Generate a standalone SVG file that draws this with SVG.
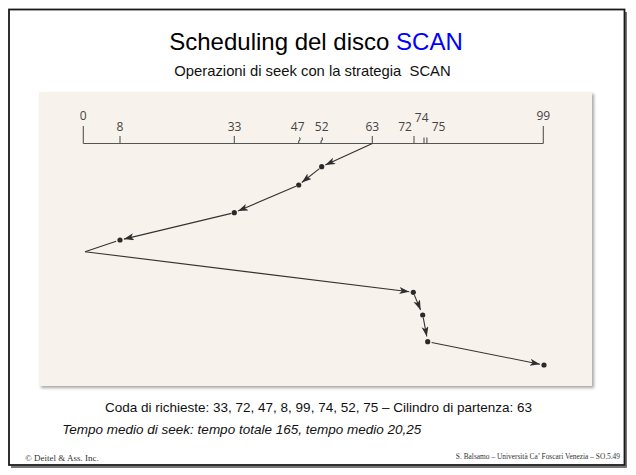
<svg xmlns="http://www.w3.org/2000/svg" width="636" height="475" viewBox="0 0 636 475">
  <defs>
    <marker id="arr" markerUnits="userSpaceOnUse" markerWidth="12" markerHeight="8" refX="10" refY="3.5" orient="auto">
      <path d="M0,0 L10,3.5 L0,7 L2.5,3.5 z" fill="#2e2e2e"/>
    </marker>
    <filter id="sh" x="-5%" y="-5%" width="110%" height="110%">
      <feGaussianBlur in="SourceAlpha" stdDeviation="1.5"/>
      <feOffset dx="1.5" dy="2" result="b"/>
      <feComponentTransfer><feFuncA type="linear" slope="0.35"/></feComponentTransfer>
      <feMerge><feMergeNode/><feMergeNode in="SourceGraphic"/></feMerge>
    </filter>
  </defs>
  <style>
    .sans { font-family: "Liberation Sans", Arial, sans-serif; }
    .serif { font-family: "Liberation Serif", "Times New Roman", serif; fill: #333; }
    .lbl { font-family: "Open Sans", "DejaVu Sans", sans-serif; font-size: 12px; fill: #444; text-anchor: middle; }
    .tick { stroke: #555; stroke-width: 1.1; fill: none; }
    .conn { stroke: #333; stroke-width: 1.1; fill: none; }
    .dot { fill: #2a2a2a; }
  </style>

  <rect width="636" height="475" fill="#ffffff"/>

  <g id="frame">
    <line x1="626" y1="12" x2="626" y2="467.5" stroke="#777" stroke-width="2"/>
    <line x1="11" y1="467" x2="626.5" y2="467" stroke="#777" stroke-width="2"/>
    <rect x="9" y="9.5" width="615.5" height="455.5" fill="none" stroke="#1a1a1a" stroke-width="1.8"/>
  </g>

  <g id="title">
    <text class="sans" x="316" y="49.5" font-size="24" text-anchor="middle" fill="#000">Scheduling del disco <tspan fill="#0000ff">SCAN</tspan></text>
    <text class="sans" x="312.5" y="76" font-size="14.8" text-anchor="middle" fill="#111" xml:space="preserve">Operazioni di seek con la strategia  SCAN</text>
  </g>

  <g id="panel">
    <rect x="39" y="92" width="553" height="294" fill="#f8f2ec" filter="url(#sh)"/>
  </g>

  <g id="axis">
    <line class="tick" x1="83.3" y1="143.5" x2="543.3" y2="143.5"/>
    <line class="tick" x1="83.3" y1="126" x2="83.3" y2="143.5"/>
    <line class="tick" x1="543.3" y1="126" x2="543.3" y2="143.5"/>
    <line class="tick" x1="120" y1="136" x2="120" y2="143.5"/>
    <line class="tick" x1="234.3" y1="136" x2="234.3" y2="143.5"/>
    <path class="tick" d="M299.3,137.5 q1.6,1.5 0,3 q-1.6,1.5 0,3"/>
    <path class="tick" d="M321.7,137.5 q1.6,1.5 0,3 q-1.6,1.5 0,3"/>
    <line class="tick" x1="372.3" y1="136" x2="372.3" y2="143.5"/>
    <line class="tick" x1="414" y1="136" x2="414" y2="143.5"/>
    <line class="tick" x1="424" y1="137.5" x2="424" y2="143.5"/>
    <line class="tick" x1="426.9" y1="137.5" x2="426.9" y2="143.5"/>
    <text class="lbl" x="83.3" y="120">0</text>
    <text class="lbl" x="120" y="130.7">8</text>
    <text class="lbl" x="234.5" y="130.7">33</text>
    <text class="lbl" x="297.7" y="130.7">47</text>
    <text class="lbl" x="321.7" y="130.7">52</text>
    <text class="lbl" x="372.3" y="130.7">63</text>
    <text class="lbl" x="405" y="130.7">72</text>
    <text class="lbl" x="421.7" y="122.3">74</text>
    <text class="lbl" x="438.5" y="130.7">75</text>
    <text class="lbl" x="543.3" y="120">99</text>
  </g>

  <g id="connectors">
    <line class="conn" x1="372.3" y1="143.5" x2="325.3" y2="165" marker-end="url(#arr)"/>
    <line class="conn" x1="319.4" y1="168.6" x2="301.8" y2="182.5" marker-end="url(#arr)"/>
    <line class="conn" x1="295.9" y1="186.2" x2="238" y2="211.1" marker-end="url(#arr)"/>
    <line class="conn" x1="231.4" y1="213.4" x2="123.9" y2="239.1" marker-end="url(#arr)"/>
    <line class="conn" x1="116.2" y1="241.3" x2="85" y2="251.7"/>
    <line class="conn" x1="85" y1="251.7" x2="409.3" y2="291.8" marker-end="url(#arr)"/>
    <line class="conn" x1="414.4" y1="295.1" x2="420.6" y2="310" marker-end="url(#arr)"/>
    <line class="conn" x1="423.3" y1="317.9" x2="426.8" y2="336.5" marker-end="url(#arr)"/>
    <line class="conn" x1="431.6" y1="342.5" x2="540" y2="364.2" marker-end="url(#arr)"/>
  </g>

  <g id="n52"><circle class="dot" cx="321.7" cy="166.7" r="2.6"/></g>
  <g id="n47"><circle class="dot" cx="298.7" cy="185" r="2.6"/></g>
  <g id="n33"><circle class="dot" cx="234.3" cy="212.7" r="2.6"/></g>
  <g id="n8"><circle class="dot" cx="120" cy="240" r="2.6"/></g>
  <g id="n72"><circle class="dot" cx="413.3" cy="292.3" r="2.6"/></g>
  <g id="n74"><circle class="dot" cx="422.7" cy="315" r="2.6"/></g>
  <g id="n75"><circle class="dot" cx="427.7" cy="341.7" r="2.6"/></g>
  <g id="n99"><circle class="dot" cx="544" cy="365" r="2.6"/></g>

  <g id="notes">
    <text class="sans" x="105" y="412.3" font-size="13.5" fill="#111">Coda di richieste: 33, 72, 47, 8, 99, 74, 52, 75 – Cilindro di partenza: 63</text>
    <text class="sans" x="62.3" y="434" font-size="13.5" font-style="italic" fill="#111">Tempo medio di seek: tempo totale 165, tempo medio 20,25</text>
  </g>

  <g id="footer">
    <text class="serif" x="25" y="460.7" font-size="9">© Deitel &amp; Ass. Inc.</text>
    <text class="serif" x="620" y="459" font-size="7.4" text-anchor="end">S. Balsamo – Università Ca’ Foscari Venezia – SO.5.49</text>
  </g>
</svg>
